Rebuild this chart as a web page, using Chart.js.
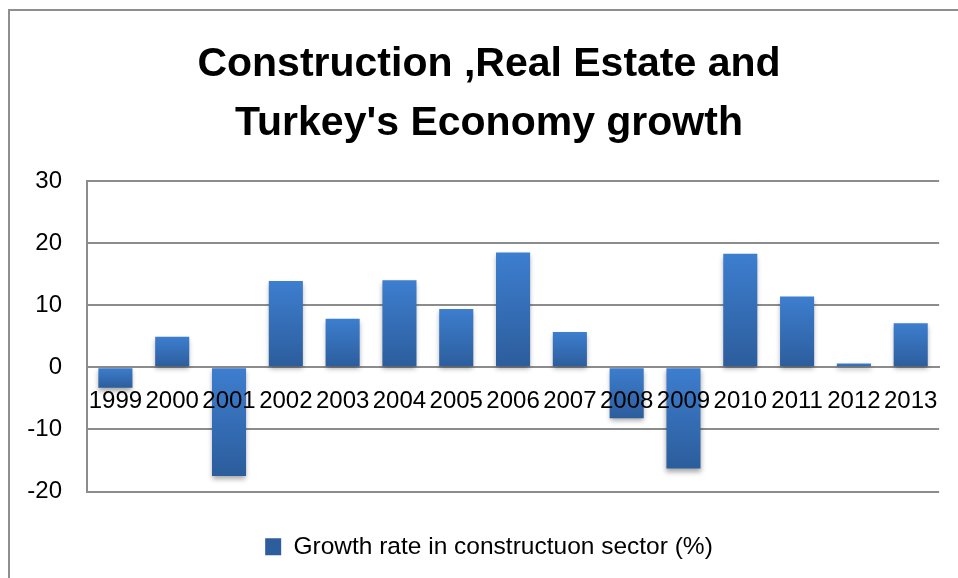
<!DOCTYPE html>
<html>
<head>
<meta charset="utf-8">
<script src="https://cdn.jsdelivr.net/npm/chart.js@4/dist/chart.umd.min.js"></script>
<style>
  html, body { margin: 0; padding: 0; background: #fff; }
  #wrap { position: relative; width: 958px; height: 578px; overflow: hidden; }
  #frame {
    position: absolute; left: 8px; top: 9px; width: 980px; height: 600px;
    border: 2px solid #8f8f8f; box-sizing: border-box;
  }
  #chart { position: absolute; left: 0; top: 0; }
</style>
</head>
<body>
<div id="wrap">
  <div id="frame"></div>
  <canvas id="chart" width="958" height="578"></canvas>
</div>
<script>
const years = ["1999", "2000", "2001", "2002", "2003", "2004", "2005", "2006",
  "2007", "2008", "2009", "2010", "2011", "2012", "2013"];
const constructionGrowth = [-3.3, 4.9, -17.5, 13.9, 7.8, 14.0, 9.4, 18.5,
  5.7, -8.2, -16.3, 18.3, 11.4, 0.6, 7.1];
const titleLines = ["Construction ,Real Estate and", "Turkey's Economy growth"];
const seriesLabel = "Growth rate in constructuon sector (%)";

const FONT = "'Liberation Sans', Arial, sans-serif";
const GRID = "#8c8c8c";

// vertical gradient per bar, lighter at the top edge
function barFill(context) {
  const chart = context.chart;
  const y = chart.scales.y;
  if (!y || context.raw === undefined) return "#3a74c0";
  const v = context.raw;
  const top = y.getPixelForValue(Math.max(v, 0));
  const bottom = y.getPixelForValue(Math.min(v, 0));
  if (!isFinite(top) || !isFinite(bottom) || top === bottom) return "#3a74c0";
  const g = chart.ctx.createLinearGradient(0, top, 0, bottom);
  g.addColorStop(0, "#3d7ecf");
  g.addColorStop(1, "#2c5d9c");
  return g;
}

// soft drop shadow under the bars
const barShadow = {
  id: "barShadow",
  beforeDatasetsDraw(chart) {
    const ctx = chart.ctx;
    ctx.save();
    ctx.shadowColor = "rgba(0,0,0,0.35)";
    ctx.shadowBlur = 5;
    ctx.shadowOffsetX = 0;
    ctx.shadowOffsetY = 3;
  },
  afterDatasetsDraw(chart) {
    chart.ctx.restore();
  }
};

// the y labels may spill into the left margin, so widen their clip box
const yLabelRoom = {
  id: "yLabelRoom",
  afterLayout(chart) {
    chart.scales.y.left = 0;
  }
};

new Chart(document.getElementById("chart"), {
  type: "bar",
  data: {
    labels: years,
    datasets: [{
      label: seriesLabel,
      data: constructionGrowth,
      backgroundColor: barFill,
      borderWidth: 0,
      categoryPercentage: 0.6,
      barPercentage: 1
    }]
  },
  options: {
    responsive: false,
    animation: false,
    layout: { padding: { left: 38, right: 18, top: 10, bottom: 9 } },
    plugins: {
      tooltip: { enabled: false },
      title: {
        display: true,
        text: titleLines,
        color: "#000",
        font: { family: FONT, size: 41, weight: "bold", lineHeight: 59 / 41 },
        padding: { top: 25, bottom: 28 }
      },
      legend: {
        position: "bottom",
        title: { display: true, text: " ", font: { size: 10, lineHeight: 1 }, padding: { top: 23, bottom: 0 } },
        labels: {
          color: "#000",
          font: { family: FONT, size: 24.5 },
          boxWidth: 16,
          boxHeight: 17,
          padding: 10
        }
      }
    },
    scales: {
      x: {
        position: { y: 0 },
        offset: true,
        grid: { display: false, drawTicks: false },
        border: { display: true, color: GRID, width: 2 },
        ticks: {
          z: 1, // year labels sit on top of the bars
          color: "#000",
          font: { family: FONT, size: 24 },
          padding: 20,
          maxRotation: 0,
          autoSkip: false
        }
      },
      y: {
        min: -20,
        max: 30,
        afterFit(scale) { scale.width = 49; },
        grid: { color: GRID, lineWidth: 2, drawTicks: false },
        border: { display: true, color: GRID, width: 2 },
        ticks: {
          stepSize: 10,
          color: "#000",
          font: { family: FONT, size: 24 },
          padding: 25
        }
      }
    }
  },
  plugins: [barShadow, yLabelRoom]
});
</script>
</body>
</html>
